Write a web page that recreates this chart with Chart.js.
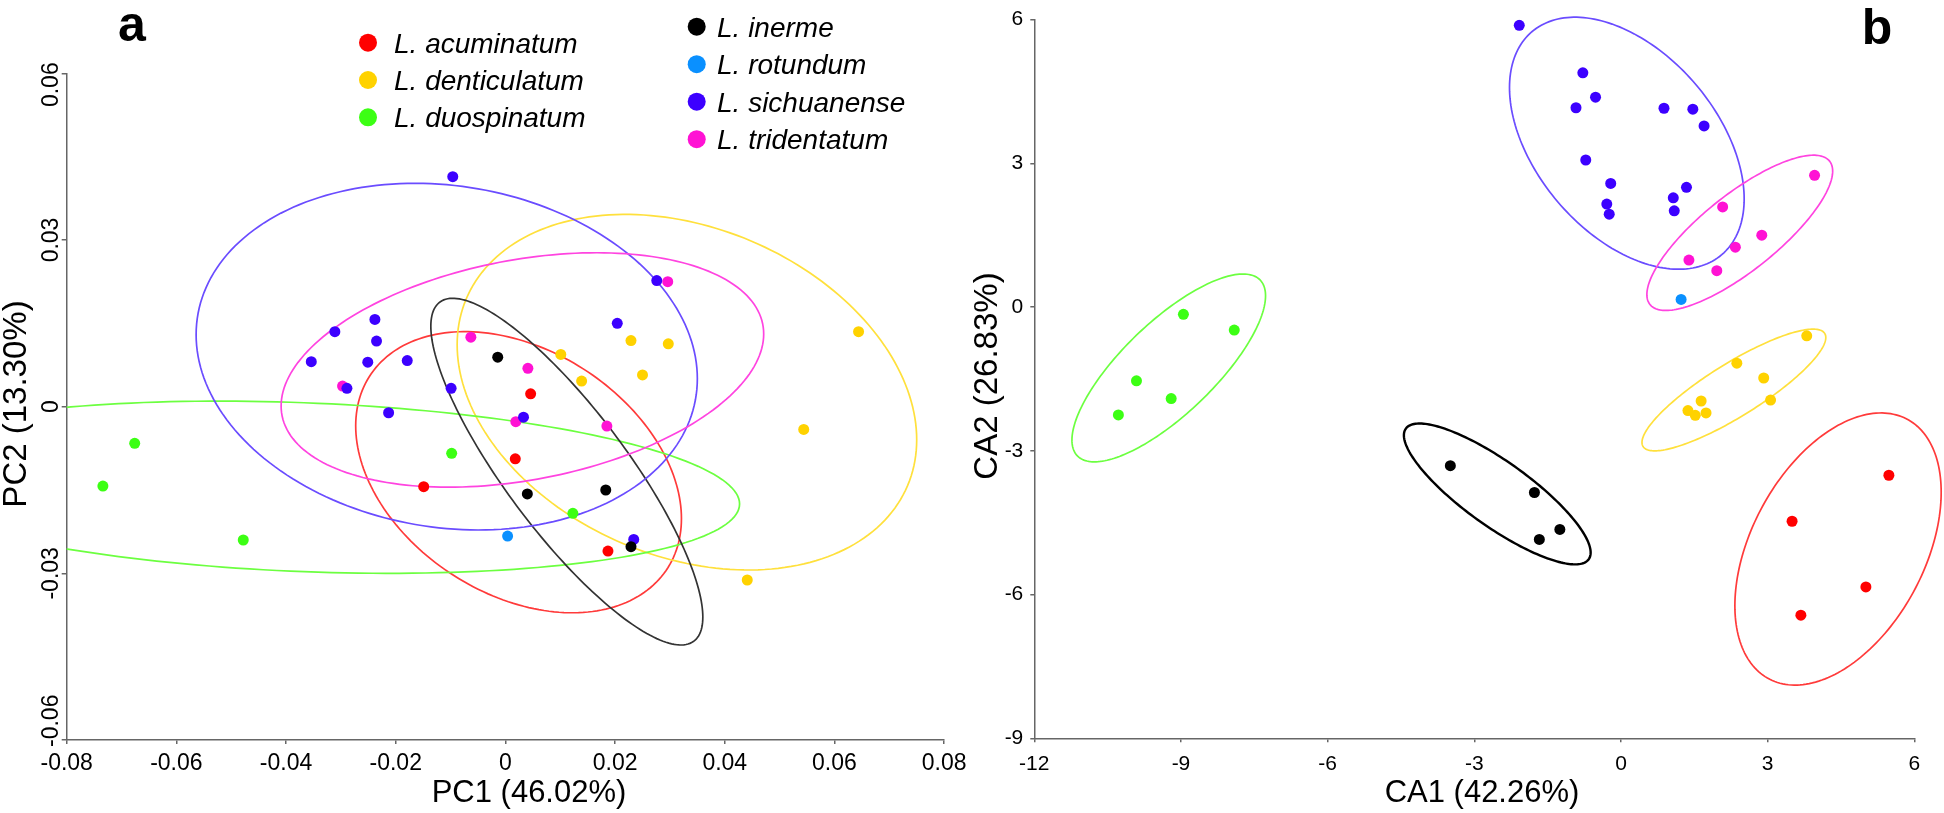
<!DOCTYPE html>
<html>
<head>
<meta charset="utf-8">
<script src="https://cdn.jsdelivr.net/npm/chart.js@4.4.1/dist/chart.umd.min.js"></script>
<style>
  html, body { margin: 0; padding: 0; background: #fff; }
  #wrap { position: relative; width: 1944px; height: 813px; }
  canvas { position: absolute; top: 0; }
  #pca { left: 0; }
  #cva { left: 972px; }
</style>
</head>
<body>
<div id="wrap">
  <canvas id="pca" width="972" height="813"></canvas>
  <canvas id="cva" width="972" height="813"></canvas>
</div>
<script>
// species order is the same for every list below
const speciesNames = ['L. acuminatum', 'L. denticulatum', 'L. duospinatum', 'L. inerme',
  'L. rotundum', 'L. sichuanense', 'L. tridentatum'];
const dotColors = ['#ff0000', '#ffd200', '#3cff14', '#000000', '#0a90ff', '#3c00ff', '#ff12d4'];
const ringColors = ['#ff3a3a', '#ffe03c', '#6cff40', '#333333', '#0a90ff', '#6a4cff', '#ff44e0'];

// panel a - PCA scores [PC1, PC2]
const pcaAcuminatum = [[0.0046, 0.0023], [0.0018, -0.0094], [-0.0149, -0.0144], [0.0187, -0.0260]];
const pcaDenticulatum = [[0.0644, 0.0135], [0.0229, 0.0119], [0.0297, 0.0113], [0.0101, 0.0094],
  [0.0250, 0.0057], [0.0139, 0.0046], [0.0544, -0.0041], [0.0441, -0.0312]];
const pcaDuospinatum = [[-0.0676, -0.0066], [-0.0734, -0.0143], [-0.0478, -0.0240], [-0.0098, -0.0084], [0.0123, -0.0192]];
const pcaInerme = [[-0.0014, 0.0089], [0.0040, -0.0157], [0.0183, -0.0150], [0.0229, -0.0252]];
const pcaRotundum = [[0.0004, -0.0233]];
const pcaSichuanense = [[-0.0096, 0.0414], [0.0276, 0.0227], [-0.0238, 0.0157], [-0.0311, 0.0135],
  [-0.0235, 0.0118], [-0.0354, 0.0081], [-0.0251, 0.0080], [-0.0179, 0.0083], [0.0204, 0.0150],
  [-0.0289, 0.0033], [-0.0099, 0.0033], [-0.0213, -0.0011], [0.0033, -0.0019], [0.0234, -0.0239]];
const pcaTridentatum = [[0.0296, 0.0225], [-0.0063, 0.0125], [0.0041, 0.0069], [-0.0297, 0.0037],
  [0.0019, -0.0027], [0.0185, -0.0035]];

// panel b - CVA scores [CA1, CA2]
const cvaAcuminatum = [[5.48, -3.51], [3.50, -4.47], [5.01, -5.84], [3.68, -6.43]];
const cvaDenticulatum = [[3.80, -0.60], [2.37, -1.17], [2.92, -1.48], [3.06, -1.94], [1.64, -1.96],
  [1.37, -2.16], [1.52, -2.26], [1.74, -2.21]];
const cvaDuospinatum = [[-8.95, -0.15], [-7.91, -0.48], [-9.91, -1.54], [-9.20, -1.91], [-10.28, -2.25]];
const cvaInerme = [[-3.49, -3.31], [-1.77, -3.87], [-1.25, -4.64], [-1.67, -4.85]];
const cvaRotundum = [[1.23, 0.16]];
const cvaSichuanense = [[-2.08, 5.88], [-0.78, 4.89], [-0.52, 4.38], [-0.92, 4.16], [0.88, 4.15],
  [1.47, 4.13], [1.70, 3.78], [-0.72, 3.07], [-0.21, 2.58], [1.34, 2.50], [1.07, 2.28],
  [-0.29, 2.15], [1.09, 2.01], [-0.24, 1.94]];
const cvaTridentatum = [[3.96, 2.75], [2.08, 2.09], [2.88, 1.50], [2.34, 1.25], [1.39, 0.98], [1.96, 0.76]];

// ellipses: [centre x, centre y, half width, half height, x of topmost point] (data units)
const pcaRings = [
  [0.0024, -0.0118, 0.0297, 0.0253, -0.0074],
  [0.0331, 0.0026, 0.0419, 0.0320, 0.0219],
  [-0.0367, -0.0145, 0.0794, 0.0155, -0.0521],
  [0.0112, -0.0117, 0.0248, 0.0312, -0.0096],
  null,
  [-0.0107, 0.0090, 0.0457, 0.0312, -0.0165],
  [0.0031, 0.0066, 0.0440, 0.0211, 0.0166]
];
const cvaRings = [
  [4.44, -5.05, 2.11, 2.84, 5.32],
  [2.31, -1.73, 1.88, 1.27, 3.93],
  [-9.25, -1.27, 1.98, 1.96, -7.73],
  [-2.53, -3.90, 1.91, 1.47, -4.12],
  null,
  [0.12, 3.42, 2.40, 2.63, -0.94],
  [2.43, 1.55, 1.90, 1.62, 3.94]
];

const pcaTitles = ['PC1 (46.02%)', 'PC2 (13.30%)'];
const cvaTitles = ['CA1 (42.26%)', 'CA2 (26.83%)'];

const FONT = '"Liberation Sans", Arial, sans-serif';
const AXIS = '#666';

function toXY(list) {
  return list.map(p => ({ x: p[0], y: p[1] }));
}

function makeDatasets(groups) {
  return groups.map((g, i) => ({
    label: speciesNames[i],
    data: toXY(g),
    backgroundColor: dotColors[i],
    borderWidth: 0,
    pointRadius: 5.5,
    pointHoverRadius: 5.5
  }));
}

// rings drawn under the points; panel a is clipped to the plot, panel b is not
function ellipsePlugin(rings, clip, darkRing) {
  return {
    id: 'rings',
    beforeDatasetsDraw(chart) {
      const { ctx, chartArea: a, scales: { x, y } } = chart;
      ctx.save();
      if (clip) {
        ctx.beginPath();
        ctx.rect(a.left, a.top, a.right - a.left, a.bottom - a.top);
        ctx.clip();
      }
      rings.forEach((r, i) => {
        if (!r) return;
        const [cx, cy, w, h, topX] = r;
        const c = (topX - cx) / w;
        const s = Math.sqrt(1 - c * c);
        ctx.beginPath();
        for (let k = 0; k <= 200; k++) {
          const t = k / 200 * Math.PI * 2;
          const px = x.getPixelForValue(cx + w * Math.cos(t));
          const py = y.getPixelForValue(cy + h * (Math.cos(t) * c + Math.sin(t) * s));
          if (k) ctx.lineTo(px, py); else ctx.moveTo(px, py);
        }
        ctx.closePath();
        const black = dotColors[i] === '#000000';
        ctx.strokeStyle = black && darkRing ? '#000' : ringColors[i];
        ctx.lineWidth = black && darkRing ? 2.4 : 1.7;
        ctx.stroke();
      });
      ctx.restore();
    }
  };
}

function legendItem(ctx, i, dx, dy, tx) {
  ctx.beginPath();
  ctx.arc(dx, dy, 9, 0, Math.PI * 2);
  ctx.fillStyle = dotColors[i];
  ctx.fill();
  ctx.fillStyle = '#000';
  ctx.font = 'italic 28px ' + FONT;
  ctx.textAlign = 'left';
  ctx.textBaseline = 'alphabetic';
  ctx.fillText(speciesNames[i], tx, dy + 10);
}

function rotatedText(ctx, text, x, y, font) {
  ctx.save();
  ctx.translate(x, y);
  ctx.rotate(-Math.PI / 2);
  ctx.font = font;
  ctx.textAlign = 'center';
  ctx.textBaseline = 'alphabetic';
  ctx.fillText(text, 0, 0);
  ctx.restore();
}

const pcaText = {
  id: 'pcaText',
  afterDraw(chart) {
    const { ctx, chartArea: a, scales: { y } } = chart;
    ctx.save();
    ctx.fillStyle = '#000';
    // rotated y tick labels, kept within the axis span
    ctx.font = '23px ' + FONT;
    y.ticks.forEach(t => {
      const label = Math.abs(t.value) < 1e-9 ? '0' : t.value.toFixed(2);
      const half = ctx.measureText(label).width / 2;
      let py = y.getPixelForValue(t.value);
      py = Math.max(a.top - 11 + half, Math.min(a.bottom + 7 - half, py));
      rotatedText(ctx, label, 58, py, '23px ' + FONT);
    });
    ctx.font = '31px ' + FONT;
    ctx.textAlign = 'center';
    ctx.textBaseline = 'alphabetic';
    ctx.fillText(pcaTitles[0], 529, 802);
    rotatedText(ctx, pcaTitles[1], 26, 404, '33px ' + FONT);
    ctx.font = 'bold 50px ' + FONT;
    ctx.textAlign = 'center';
    ctx.fillText('a', 132, 41);
    // legend, two columns
    [0, 1, 2].forEach((s, k) => legendItem(ctx, s, 368, 42.7 + k * 37.3, 394));
    [3, 4, 5, 6].forEach((s, k) => legendItem(ctx, s, 696.7, 26.7 + k * 37.5, 717));
    ctx.restore();
  }
};

const cvaText = {
  id: 'cvaText',
  afterDraw(chart) {
    const { ctx } = chart;
    ctx.save();
    ctx.fillStyle = '#000';
    ctx.font = '31px ' + FONT;
    ctx.textAlign = 'center';
    ctx.textBaseline = 'alphabetic';
    ctx.fillText(cvaTitles[0], 510, 802);
    rotatedText(ctx, cvaTitles[1], 25, 376, '33px ' + FONT);
    ctx.font = 'bold 50px ' + FONT;
    ctx.textAlign = 'center';
    ctx.fillText('b', 905, 44);
    ctx.restore();
  }
};

function axisOpts(min, max, step, extra) {
  return Object.assign({
    type: 'linear',
    min: min,
    max: max,
    grid: { drawOnChartArea: false, drawTicks: true, tickLength: 4, color: AXIS, lineWidth: 1.5 },
    border: { display: true, color: AXIS, width: 1.5 }
  }, extra, {
    ticks: Object.assign({ stepSize: step, color: '#000' }, extra.ticks)
  });
}

Chart.defaults.font.family = FONT;

new Chart(document.getElementById('pca'), {
  type: 'scatter',
  data: {
    datasets: makeDatasets([pcaAcuminatum, pcaDenticulatum, pcaDuospinatum, pcaInerme,
      pcaRotundum, pcaSichuanense, pcaTridentatum])
  },
  options: {
    responsive: false,
    animation: false,
    devicePixelRatio: 1,
    layout: { padding: { left: 0, top: 73.3, right: 19.7, bottom: 0 } },
    plugins: { legend: { display: false }, tooltip: { enabled: false } },
    scales: {
      x: axisOpts(-0.08, 0.08, 0.02, {
        ticks: {
          font: { size: 23 }, padding: 5.5, maxRotation: 0,
          callback: v => Math.abs(v) < 1e-9 ? '0' : v.toFixed(2)
        },
        afterFit: s => { s.height = 73; }
      }),
      y: axisOpts(-0.06, 0.06, 0.03, {
        grid: { drawOnChartArea: false, drawTicks: true, tickLength: 5, color: AXIS, lineWidth: 1.5 },
        ticks: { display: false },
        afterFit: s => { s.width = 66.7; }
      })
    }
  },
  plugins: [ellipsePlugin(pcaRings, true, false), pcaText]
});

new Chart(document.getElementById('cva'), {
  type: 'scatter',
  data: {
    datasets: makeDatasets([cvaAcuminatum, cvaDenticulatum, cvaDuospinatum, cvaInerme,
      cvaRotundum, cvaSichuanense, cvaTridentatum])
  },
  options: {
    responsive: false,
    animation: false,
    devicePixelRatio: 1,
    layout: { padding: { left: 0, top: 5, right: 29.7, bottom: 0 } },
    plugins: { legend: { display: false }, tooltip: { enabled: false } },
    scales: {
      x: axisOpts(-12, 6, 3, {
        ticks: { font: { size: 21 }, padding: 9, maxRotation: 0 },
        afterFit: s => { s.height = 74.7; }
      }),
      y: axisOpts(-9, 6, 3, {
        ticks: { font: { size: 21 }, padding: 7 },
        afterFit: s => { s.width = 62.3; }
      })
    }
  },
  plugins: [ellipsePlugin(cvaRings, false, true), cvaText]
});
</script>
</body>
</html>
